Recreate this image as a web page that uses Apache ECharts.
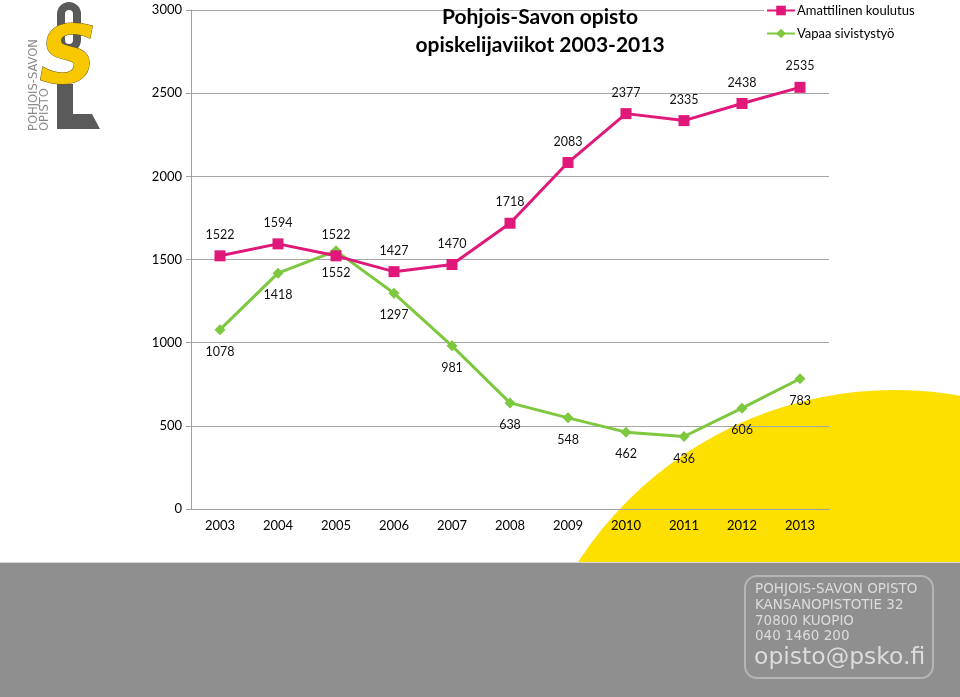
<!DOCTYPE html>
<html>
<head>
<meta charset="utf-8">
<script src="https://cdn.jsdelivr.net/npm/echarts@6/dist/echarts.min.js"></script>
<style>html,body{margin:0;padding:0;background:#fff}#c{width:960px;height:697px}</style>
</head>
<body>
<div id="c"></div>
<script>
const years = ['2003','2004','2005','2006','2007','2008','2009','2010','2011','2012','2013'];
const amattilinen = [1522,1594,1522,1427,1470,1718,2083,2377,2335,2438,2535];
const vapaa = [1078,1418,1552,1297,981,638,548,462,436,606,783];
const seriesNames = ['Amattilinen koulutus','Vapaa sivistystyö'];
const titleText = 'Pohjois-Savon opisto\nopiskelijaviikot 2003-2013';
const footerLines = ['POHJOIS-SAVON OPISTO','KANSANOPISTOTIE 32','70800 KUOPIO','040 1460 200'];
const footerMail = 'opisto@psko.fi';

const FONT = 'Lato';
const chart = echarts.init(document.getElementById('c'));
chart.setOption({
  backgroundColor: '#fff',
  animation: false,
  title: {
    text: titleText, left: 535, top: -2, textAlign: 'center',
    textStyle: {fontFamily: FONT, fontWeight: 'bold', fontSize: 21, lineHeight: 28, color: '#000'}
  },
  legend: {
    orient: 'vertical', left: 764, top: 1, padding: [3,8,4,2],
    backgroundColor: '#fff', itemGap: 10, itemWidth: 28, itemHeight: 12,
    textStyle: {fontFamily: FONT, fontSize: 13, color: '#000', padding: [0,0,0,-3]},
    data: seriesNames
  },
  grid: {left: 191, right: 131, top: 10, bottom: 188, containLabel: false},
  xAxis: {
    type: 'category', data: years, boundaryGap: true,
    axisLine: {lineStyle: {color: '#a0a0a0', width: 1}},
    axisTick: {alignWithLabel: true, length: 4, lineStyle: {color: '#a0a0a0'}},
    axisLabel: {fontFamily: FONT, fontSize: 13, color: '#000', margin: 10}
  },
  yAxis: {
    type: 'value', min: 0, max: 3000, interval: 500,
    axisLine: {show: true, lineStyle: {color: '#a0a0a0', width: 1}},
    axisTick: {show: true, length: 5, lineStyle: {color: '#a0a0a0'}},
    splitLine: {lineStyle: {color: '#a6a6a6', width: 1}},
    axisLabel: {fontFamily: FONT, fontSize: 13, color: '#000', margin: 9, formatter: v => String(v)}
  },
  series: [
    {
      name: seriesNames[0], type: 'line', data: amattilinen,
      symbol: 'rect', symbolSize: 11, z: 3,
      itemStyle: {color: '#E0187A'}, lineStyle: {color: '#E0187A', width: 3},
      label: {show: true, position: 'top', distance: 9, fontFamily: FONT, fontSize: 12.5, color: '#111'}
    },
    {
      name: seriesNames[1], type: 'line', data: vapaa,
      symbol: 'diamond', symbolSize: 11, z: 2,
      itemStyle: {color: '#7DC83E'}, lineStyle: {color: '#7DC83E', width: 3},
      label: {show: true, position: 'bottom', distance: 10, fontFamily: FONT, fontSize: 12.5, color: '#111'}
    }
  ],
  graphic: [
    {type: 'circle', shape: {cx: 895, cy: 768, r: 378}, style: {fill: '#FDDF00'}, z: -10, silent: true},
    {type: 'rect', shape: {x: 0, y: 562, width: 960, height: 135}, style: {fill: '#8f8f8f'}, z: -5, silent: true},
    {type: 'rect', shape: {x: 0, y: 562, width: 960, height: 1}, style: {fill: '#d8d8d8'}, z: -4, silent: true},
    {type: 'rect', shape: {x: 745, y: 576, width: 188, height: 102, r: 12}, style: {fill: 'none', stroke: '#b5b5b5', lineWidth: 2}, z: 5, silent: true},
    {type: 'text', x: 755, y: 582, style: {text: footerLines.join('\n'), fill: '#dcdcdc', font: '13.5px "DejaVu Sans"', lineHeight: 15.7}, z: 6, silent: true},
    {type: 'text', x: 754, y: 646, style: {text: footerMail, fill: '#dcdcdc', font: '23.5px "DejaVu Sans"'}, z: 6, silent: true},
    // logo
    {type: 'rect', shape: {x: 61, y: 6, width: 16, height: 42, r: 8}, style: {fill: 'none', stroke: '#5a5a5a', lineWidth: 8}, z: 5, silent: true},
    {type: 'polygon', shape: {points: [[57,84],[73,84],[73,114],[92,114],[100,129],[57,129]]}, style: {fill: '#5a5a5a'}, z: 5, silent: true},
    {type: 'text', x: 68, y: 62, style: {text: 'S', fill: '#F7C800', stroke: '#6b5a10', lineWidth: 1, font: 'italic bold 80px "DejaVu Sans"', textAlign: 'center', textVerticalAlign: 'middle'}, z: 6, silent: true},
    {type: 'text', x: 29, y: 131, rotation: Math.PI/2, style: {text: 'POHJOIS-SAVON\nOPISTO', fill: '#8a8a8a', font: '11.5px "DejaVu Sans"', lineHeight: 11}, z: 5, silent: true}
  ]
});
</script>
</body>
</html>
